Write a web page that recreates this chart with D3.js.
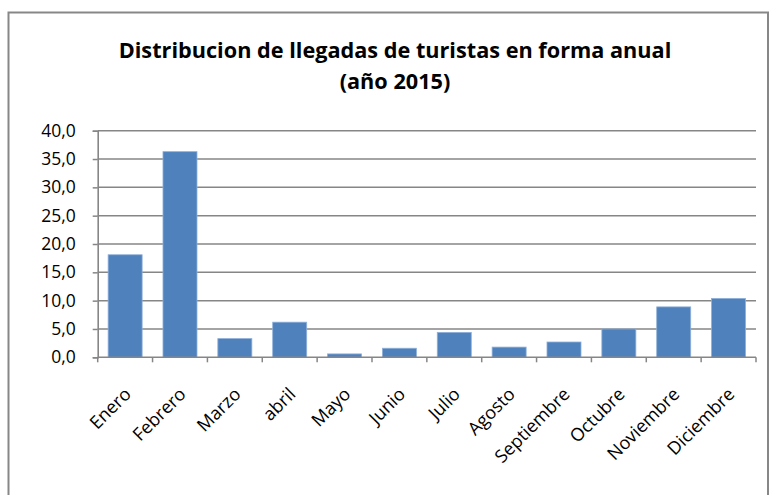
<!DOCTYPE html>
<html>
<head>
<meta charset="utf-8">
<script src="https://cdn.jsdelivr.net/npm/d3@7"></script>
<style>
  html, body { margin: 0; padding: 0; background: #fff; }
  svg { display: block; }
</style>
</head>
<body>
<script>
const categories = ["Enero","Febrero","Marzo","abril","Mayo","Junio","Julio","Agosto","Septiembre","Octubre","Noviembre","Diciembre"];
const values = [18.1, 36.3, 3.3, 6.2, 0.6, 1.6, 4.4, 1.8, 2.7, 5.0, 8.9, 10.4];
const yTicks = [0, 5, 10, 15, 20, 25, 30, 35, 40];
const titleLines = ["Distribucion de llegadas de turistas en forma anual", "(año 2015)"];

const W = 771, H = 495;
const plot = { left: 97.7, right: 756, top: 130.7, bottom: 357.3 };
const font = "'Open Sans', 'Noto Sans', sans-serif";

const svg = d3.select("body").append("svg").attr("width", W).attr("height", H);

// chart border
svg.append("rect")
  .attr("x", 8.5).attr("y", 12.5)
  .attr("width", 759.5).attr("height", 500)
  .attr("fill", "#fff").attr("stroke", "#878787").attr("stroke-width", 2);

// title
const title = svg.append("g");
title.selectAll("text").data(titleLines).join("text")
  .attr("x", 395).attr("y", (d, i) => 58 + i * 31)
  .attr("text-anchor", "middle")
  .attr("font-family", font).attr("font-weight", "bold")
  .attr("font-size", 20).attr("fill", "#000")
  .text(d => d);
// fit first line width to the reference width
const t0 = title.select("text").node();
const w0 = t0.getComputedTextLength();
const fs = 20 * 553 / w0;
title.selectAll("text").attr("font-size", fs);

const x = d3.scaleBand().domain(categories)
  .range([plot.left, plot.right]).paddingInner(0.38).paddingOuter(0.19);
const y = d3.scaleLinear().domain([0, 40]).range([plot.bottom, plot.top]);

// gridlines
svg.append("g").selectAll("line").data(yTicks.filter(d => d > 0)).join("line")
  .attr("x1", plot.left).attr("x2", plot.right)
  .attr("y1", d => y(d)).attr("y2", d => y(d))
  .attr("stroke", "#868686").attr("stroke-width", 1.5);

// bars
svg.append("g").selectAll("rect").data(values).join("rect")
  .attr("x", (d, i) => x(categories[i]))
  .attr("y", d => y(d))
  .attr("width", x.bandwidth())
  .attr("height", d => y(0) - y(d))
  .attr("fill", "#4F81BD")
  .attr("stroke", "#8fb0d9").attr("stroke-width", 0.8);

// y axis
const fmt = d => d3.format(".1f")(d).replace(".", ",");
const yAxis = svg.append("g").attr("transform", `translate(${plot.left},0)`)
  .call(d3.axisLeft(y).tickValues(yTicks).tickFormat(fmt).tickSize(5).tickPadding(17));
yAxis.select(".domain").attr("stroke", "#868686").attr("stroke-width", 1.6);
yAxis.selectAll(".tick line").attr("stroke", "#868686").attr("stroke-width", 1.5);
yAxis.selectAll(".tick text").attr("font-family", font).attr("font-size", 17.5).attr("fill", "#000");

// x axis baseline and ticks at category boundaries
const step = x.step();
const boundaries = d3.range(categories.length + 1).map(i => plot.left + i * step);
const xg = svg.append("g");
xg.append("line")
  .attr("x1", plot.left).attr("x2", plot.right)
  .attr("y1", plot.bottom).attr("y2", plot.bottom)
  .attr("stroke", "#868686").attr("stroke-width", 1.6);
xg.selectAll("line.tk").data(boundaries).join("line").attr("class", "tk")
  .attr("x1", d => d).attr("x2", d => d)
  .attr("y1", plot.bottom).attr("y2", plot.bottom + 5)
  .attr("stroke", "#868686").attr("stroke-width", 1.5);

// x labels rotated
xg.selectAll("text").data(categories).join("text")
  .attr("transform", d => `translate(${x(d) + x.bandwidth() / 2 + 7},${plot.bottom + 38}) rotate(-45)`)
  .attr("text-anchor", "end")
  .attr("font-family", font).attr("font-size", 18).attr("fill", "#000")
  .text(d => d);
</script>
</body>
</html>
